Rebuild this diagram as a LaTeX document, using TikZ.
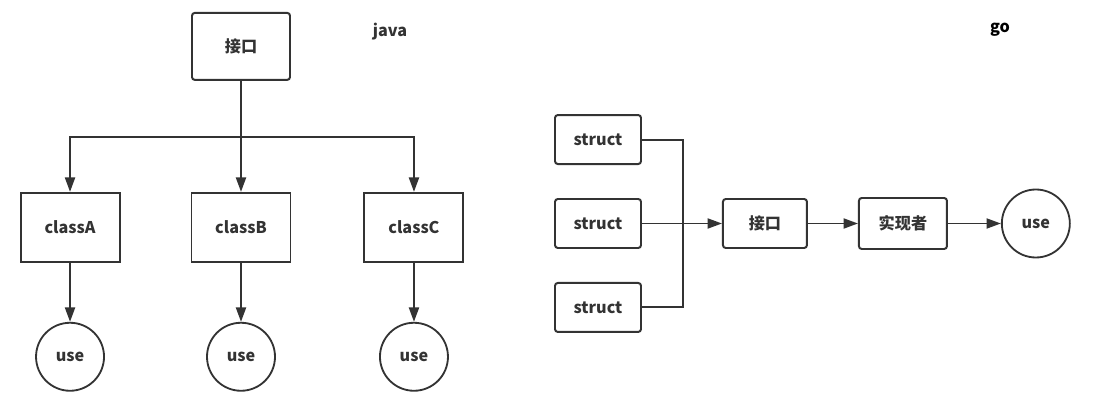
\documentclass[tikz,border=0pt]{standalone}
\usepackage{fontspec}
\setmainfont{Noto Sans CJK SC}
\usepackage{xcolor}
\usepackage{tikz}
\usetikzlibrary{shapes.geometric, arrows.meta, positioning, calc}

\definecolor{linegray}{HTML}{333333}

\begin{document}
\begin{tikzpicture}[
        node distance=0.8cm,
        font=\fontsize{11.5}{13}\selectfont\bfseries,
        every node/.append style={text=linegray},
        classbox/.style={rectangle, draw=linegray, line width=1.4pt, minimum width=2.475cm, minimum height=1.725cm, align=center},
        roundbox/.style={rectangle, rounded corners=2pt, draw=linegray, line width=1.4pt, minimum width=2.15cm, minimum height=1.225cm, align=center},
        usenode/.style={circle, draw=linegray, line width=1.3pt, minimum size=1.7cm, inner sep=0pt},
        link/.style={-{Triangle[length=3.6mm, width=2.5mm]}, draw=linegray, line width=1.4pt},
        wire/.style={draw=linegray, line width=1.4pt}
    ]
        \useasboundingbox (0,0) rectangle (27.825,-10.2);

        % java
        \node[roundbox, minimum width=2.45cm, minimum height=1.675cm] (iface) at (6.025,-1.16) {接口};
        \node[classbox, below=2.775cm of iface] (classB) {classB};
        \node[classbox, left=1.75cm of classB] (classA) {classA};
        \node[classbox, right=1.8cm of classB] (classC) {classC};
        \node (java) at (9.75,-0.78) {java};

        \foreach \cls in {classA, classB, classC} {
            \node[usenode, below=1.475cm of \cls] (use\cls) {use};
            \draw[link] (\cls.south) -- (use\cls.north);
        }

        \coordinate (split) at ($(iface.south)+(0,-1.4)$);
        \draw[link] (iface.south) -- (classB.north);
        \draw[link] (split) -| (classA.north);
        \draw[link] (split) -| (classC.north);

        % go
        \node[roundbox] (struct2) at (14.95,-5.5875) {struct};
        \node[roundbox, above=0.825cm of struct2] (struct1) {struct};
        \node[roundbox, below=0.825cm of struct2] (struct3) {struct};
        \node[roundbox, minimum width=2.1cm, right=2cm of struct2] (iface2) {接口};
        \node[roundbox, minimum width=2.2cm, minimum height=1.275cm, right=1.25cm of iface2] (impl) {实现者};
        \node[usenode, right=1.325cm of impl] (usego) {use};
        \node[text=black] (go) at (25,-0.75) {go};

        \coordinate (bus) at ($(struct2.east)+(1.025,0)$);
        \draw[wire] (struct1.east) -| (bus) |- (struct3.east);
        \draw[link] (struct2.east) -- (iface2.west);
        \draw[link] (iface2.east) -- (impl.west);
        \draw[link] (impl.east) -- (usego.west);

    \end{tikzpicture}
\end{document}
